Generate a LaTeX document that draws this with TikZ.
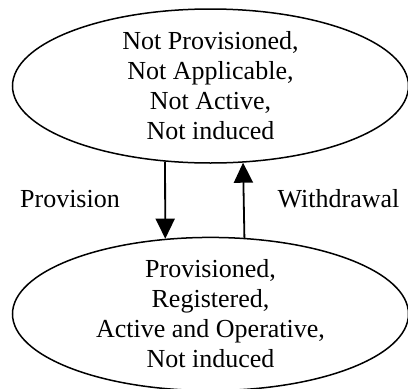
\documentclass[tikz,border=0pt]{standalone}
\usepackage{fontspec}
\setmainfont{Liberation Serif}
\usetikzlibrary{arrows.meta,shapes.geometric}
\begin{document}
\begin{tikzpicture}[x=1pt,y=1pt,
  state/.style={draw,ellipse,line width=1.5pt,inner sep=0pt,minimum width=396pt,
    align=center,font=\fontsize{26}{30}\selectfont},
  trans/.style={line width=1.8pt,-{Triangle[width=19pt,length=20pt]}},
  lbl/.style={font=\fontsize{26}{30}\selectfont,inner sep=0pt,anchor=base}]
\useasboundingbox (0,0) rectangle (408,-389);
\node[state,minimum height=154pt] (top) at (210.5,-86)
  {Not Provisioned,\\Not Applicable,\\Not Active,\\Not induced};
\node[state,minimum height=148pt] (bot) at (210.5,-314)
  {Provisioned,\\Registered,\\Active and Operative,\\Not induced};
\draw[trans] (top.239.3) -- (bot.121.7);
\draw[trans] (bot.66) -- (top.293.2);
\node[lbl] (prov) at (70,-207) {Provision};
\node[lbl] (withd) at (338.5,-207) {Withdrawal};
\end{tikzpicture}
\end{document}
